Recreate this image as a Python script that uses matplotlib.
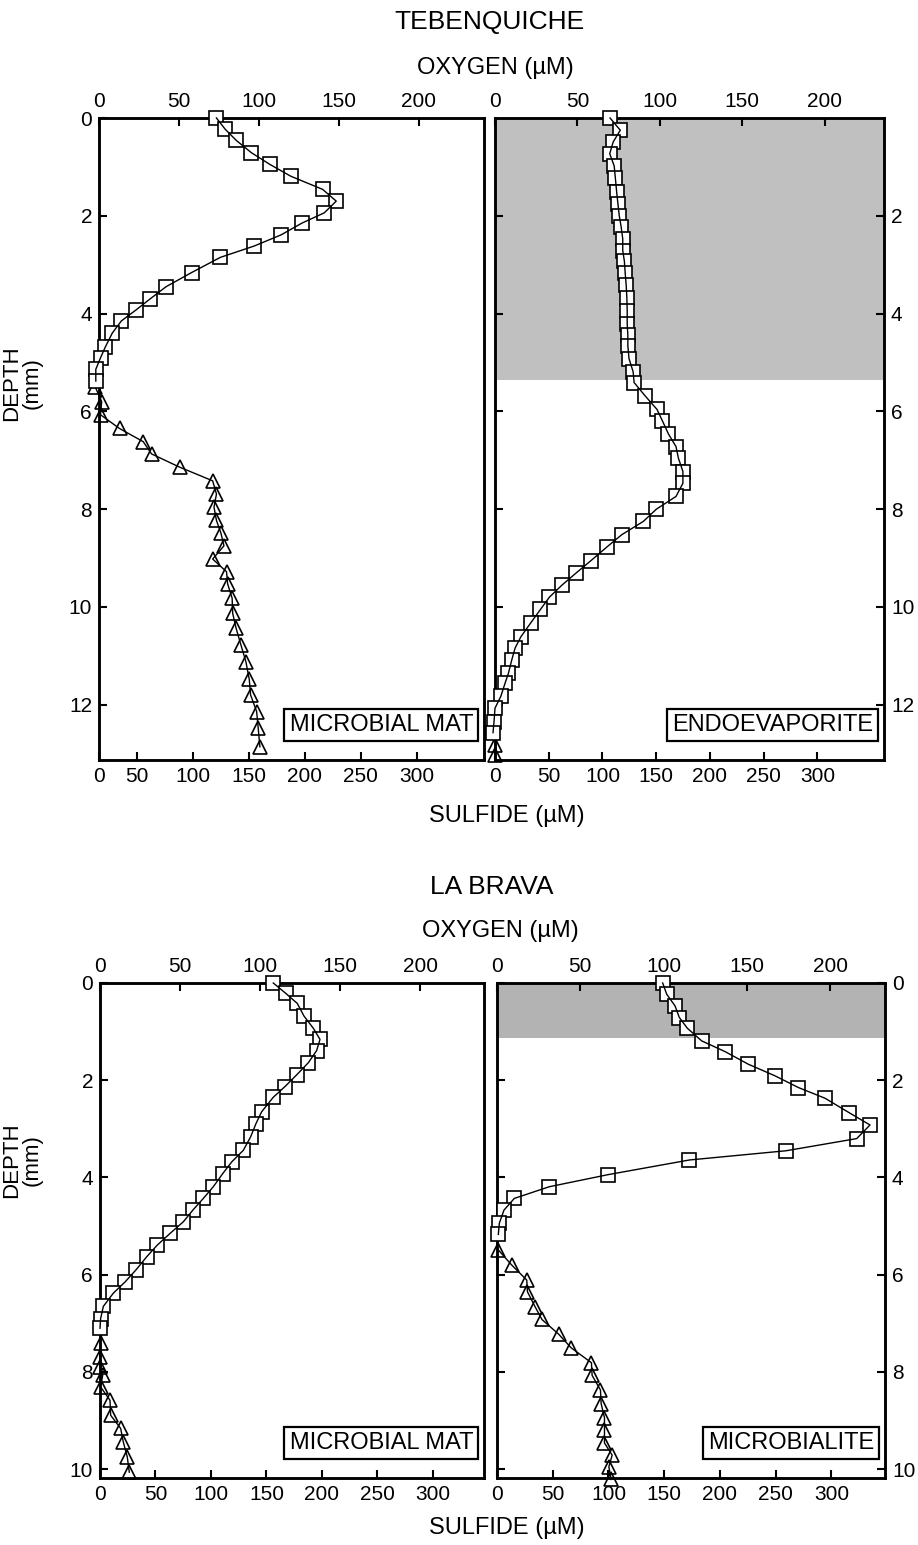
import matplotlib
matplotlib.use("Agg")
import matplotlib.pyplot as plt
import numpy as np

plt.rcParams['font.family'] = ['Liberation Sans', 'DejaVu Sans']

# ---- TEBENQUICHE, microbial mat ----
teb_mat_o2_depth = [0, 0.23, 0.46, 0.71, 0.95, 1.19, 1.46, 1.70, 1.94, 2.15, 2.39, 2.62,
                    2.85, 3.16, 3.45, 3.70, 3.93, 4.15, 4.40, 4.68, 4.90, 5.14, 5.38]
teb_mat_o2 = [73.5, 79, 86, 95.4, 107, 120, 140, 148.5, 141, 127, 114, 97,
              76, 58, 42, 32, 23, 14, 8.3, 4, 1, -2, -2]
teb_mat_h2s_depth = [5.50, 5.80, 6.07, 6.35, 6.62, 6.87, 7.14, 7.42, 7.69, 7.96, 8.23, 8.49, 8.75,
                     9.02, 9.28, 9.53, 9.82, 10.13, 10.44, 10.78, 11.12, 11.48, 11.80, 12.14, 12.48, 12.86]
teb_mat_h2s = [-5, 3.5, 2, 27, 55.6, 63, 88, 117.6, 121, 118.8, 121, 125, 127.7,
               117.6, 130, 131, 135, 135.5, 138.6, 142.9, 147.3, 150.3, 151.5, 156.9, 158.3, 159.8]

# ---- TEBENQUICHE, endoevaporite ----
teb_endo_o2_depth = [0, 0.25, 0.49, 0.73, 0.98, 1.22, 1.51, 1.76, 2.0, 2.22, 2.47, 2.71, 2.93,
                     3.18, 3.42, 3.68, 3.95, 4.21, 4.44, 4.66, 4.92, 5.19, 5.41, 5.68, 5.96,
                     6.19, 6.46, 6.72, 6.96, 7.23, 7.47, 7.74, 8.0, 8.25, 8.52, 8.77, 9.05,
                     9.30, 9.56, 9.80, 10.05, 10.32, 10.61, 10.84, 11.08, 11.36, 11.56, 11.83,
                     12.07, 12.35, 12.57]
teb_endo_o2 = [69.8, 76, 71.7, 69.6, 72.3, 73, 73.8, 74.6, 75.4, 76.5, 77.5, 77.5, 78.5,
               79, 79.6, 80, 80.2, 80.2, 80.6, 80.6, 81.3, 83.8, 84.4, 91, 98.3,
               101.5, 105.2, 109.8, 111.3, 114, 114, 109.8, 97.9, 90, 77, 68, 58.3,
               49.4, 40.4, 33, 27.6, 21.8, 15.7, 12.2, 10.2, 8.1, 6.1, 3.5,
               0, -0.6, -1.2]
teb_endo_h2s_depth = [12.82, 13.03]
teb_endo_h2s = [0, 0]

# ---- LA BRAVA, microbial mat ----
lab_mat_o2_depth = [0, 0.21, 0.42, 0.68, 0.93, 1.16, 1.39, 1.64, 1.89, 2.13, 2.35, 2.65, 2.89,
                    3.16, 3.44, 3.68, 3.92, 4.19, 4.43, 4.66, 4.91, 5.15, 5.39, 5.63, 5.90,
                    6.15, 6.38, 6.65, 6.90, 7.10]
lab_mat_o2 = [108.3, 116, 123.3, 127.5, 133.3, 137.5, 135.4, 130.2, 122.9, 115.6, 108.3, 101, 97.5,
              94.2, 89.6, 82.3, 76.7, 70.8, 64.6, 58.3, 52.1, 43.8, 35.8, 29.2, 22.5,
              15.6, 8.3, 2.1, 0.4, 0]
lab_mat_h2s_depth = [7.41, 7.69, 7.90, 8.07, 8.31, 8.58, 8.89, 9.16, 9.44, 9.75, 10.06]
lab_mat_h2s = [0.6, 0, 0, 2.4, 0.6, 9, 9.6, 18.6, 21, 24.6, 26.4]

# ---- LA BRAVA, microbialite ----
lab_lite_o2_depth = [0, 0.23, 0.47, 0.71, 0.93, 1.19, 1.41, 1.67, 1.91, 2.15, 2.37, 2.67, 2.92,
                     3.20, 3.45, 3.64, 3.94, 4.19, 4.43, 4.67, 4.94, 5.17]
lab_lite_o2 = [99.5, 101.9, 106.9, 109.5, 114.3, 122.9, 136.9, 150.9, 167, 181, 197, 211.6, 224,
               216, 173.6, 115.5, 66.9, 31.4, 10.4, 4.2, 1.4, 0.8]
lab_lite_h2s_depth = [5.49, 5.80, 6.11, 6.35, 6.66, 6.92, 7.22, 7.50, 7.81, 8.07, 8.37, 8.65,
                      8.94, 9.20, 9.46, 9.71, 9.95, 10.21]
lab_lite_h2s = [1.2, 13.2, 26.7, 27.3, 34.2, 40.3, 55.2, 66.4, 84.7, 85.3, 92.8, 93.4,
                96.4, 96.4, 96.4, 103.3, 100.3, 102.4]

o2_ticks = [0, 50, 100, 150, 200]
h2s_ticks = [0, 50, 100, 150, 200, 250, 300]

W, H = 918, 1545
fig = plt.figure(figsize=(W / 100, H / 100), dpi=100)


def px_axes(x0, x1, y0, y1):
    return fig.add_axes([x0 / W, 1 - y1 / H, (x1 - x0) / W, (y1 - y0) / H])


# the original bottom axis of the first panel is not linear between 0 and 50
def h2s_fwd(s):
    s = np.asarray(s, dtype=float)
    return np.where(s < 50, s * 0.76, 38 + (s - 50) * 1.12)


def h2s_inv(p):
    p = np.asarray(p, dtype=float)
    return np.where(p < 38, p / 0.76, 50 + (p - 38) / 1.12)


def panel(box, o2_d, o2, h2s_d, h2s, o2_max, h2s_max, dmax, yticks, right, label,
          shade=None, odd_scale=False):
    ax = px_axes(*box)
    if odd_scale:
        ax.set_xscale('function', functions=(h2s_fwd, h2s_inv))
    ax.set_xlim(0, h2s_max)
    ax.set_ylim(dmax, 0)
    ax.set_xticks(h2s_ticks)
    ax.set_yticks(yticks)
    if shade:
        ax.axhspan(0, shade[0], color=shade[1], lw=0, zorder=0)
    if len(h2s):
        ax.plot(h2s, h2s_d, '-', color='k', lw=1.0, zorder=3, clip_on=False)
        ax.plot(h2s, h2s_d, '^', ms=10.5, mfc='none', mec='k', mew=1.2, zorder=3, clip_on=False)
    ax2 = ax.twiny()
    ax2.set_xlim(0, o2_max)
    ax2.set_xticks(o2_ticks)
    ax2.plot(o2, o2_d, 's', ms=10, mfc='white', mec='k', mew=1.2, zorder=3, clip_on=False)
    ax2.plot(o2, o2_d, '-', color='k', lw=1.0, zorder=4, clip_on=False)
    for a in (ax, ax2):
        for sp in a.spines.values():
            sp.set_linewidth(1.8)
        a.tick_params(direction='in', length=6, width=1.5, labelsize=15, pad=5)
    if right:
        ax.tick_params(axis='y', left=True, right=True, labelleft=False, labelright=True)
    ax.annotate(label, xy=(1, 0), xycoords='axes fraction', xytext=(-11, 24),
                textcoords='offset pixels', ha='right', va='bottom', fontsize=17,
                bbox=dict(boxstyle='square,pad=0.22', fc='white', ec='k', lw=1.6), zorder=6)
    return ax


panel((99, 484, 118, 760), teb_mat_o2_depth, teb_mat_o2, teb_mat_h2s_depth, teb_mat_h2s,
      241, 360, 13.13, [0, 2, 4, 6, 8, 10, 12], False, 'MICROBIAL MAT', odd_scale=True)
panel((495, 884, 118, 760), teb_endo_o2_depth, teb_endo_o2, teb_endo_h2s_depth, teb_endo_h2s,
      236, 362, 13.13, [2, 4, 6, 8, 10, 12], True, 'ENDOEVAPORITE', shade=(5.35, '#c0c0c0'))
panel((100, 484, 983, 1478), lab_mat_o2_depth, lab_mat_o2, lab_mat_h2s_depth, lab_mat_h2s,
      240, 346, 10.18, [0, 2, 4, 6, 8, 10], False, 'MICROBIAL MAT')
panel((497, 885, 983, 1478), lab_lite_o2_depth, lab_lite_o2, lab_lite_h2s_depth, lab_lite_h2s,
      233, 348, 10.18, [0, 2, 4, 6, 8, 10], True, 'MICROBIALITE', shade=(1.14, '#b3b3b3'))


def ftext(x, y, s, **kw):
    fig.text(x / W, 1 - y / H, s, ha='center', va='center', **kw)


ftext(490, 22, 'TEBENQUICHE', fontsize=19)
ftext(495, 68, 'OXYGEN (µM)', fontsize=17)
ftext(507, 816, 'SULFIDE (µM)', fontsize=17)
ftext(492, 887, 'LA BRAVA', fontsize=19)
ftext(500, 931, 'OXYGEN (µM)', fontsize=17)
ftext(507, 1528, 'SULFIDE (µM)', fontsize=17)
ftext(22, 383, 'DEPTH\n(mm)', fontsize=16, rotation=90, linespacing=1.0)
ftext(22, 1160, 'DEPTH\n(mm)', fontsize=16, rotation=90, linespacing=1.0)

fig.savefig('out.png', dpi=100)
